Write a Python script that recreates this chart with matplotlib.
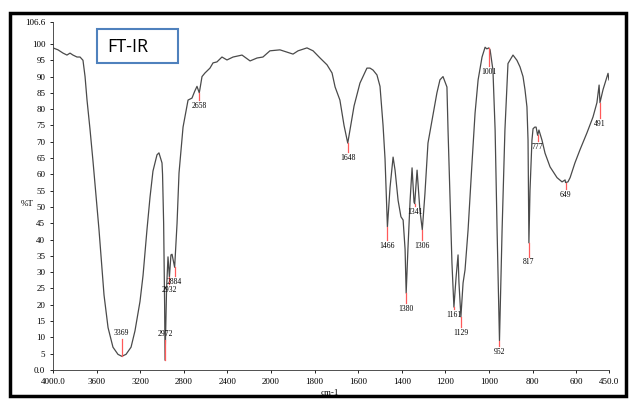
import matplotlib.pyplot as plt
import matplotlib.patches as patches
import numpy as np

# spectrum (wavenumber cm-1, %T)
wavenumber = [4000, 3954, 3908, 3872, 3844, 3817, 3780, 3752, 3725, 3706, 3688, 3661,
              3633, 3596, 3578, 3550, 3532, 3495, 3450, 3404, 3369, 3330, 3284, 3248,
              3202, 3174, 3138, 3110, 3083, 3046, 3028, 3000, 2995, 2985, 2976, 2972,
              2958, 2945, 2932, 2918, 2908, 2884, 2862, 2844, 2817, 2807, 2761, 2725,
              2700, 2679, 2658, 2633, 2606, 2560, 2532, 2496, 2450, 2404, 2348, 2266,
              2192, 2128, 2074, 2010, 1959, 1927, 1899, 1876, 1835, 1807, 1775, 1743,
              1720, 1706, 1684, 1665, 1648, 1638, 1619, 1592, 1560, 1546, 1532, 1514,
              1500, 1486, 1477, 1472, 1466, 1454, 1440, 1431, 1417, 1404, 1394, 1385,
              1380, 1372, 1362, 1353, 1344, 1341, 1330, 1317, 1306, 1294, 1280, 1261,
              1239, 1225, 1211, 1193, 1188, 1179, 1170, 1161, 1151, 1142, 1138, 1129,
              1119, 1110, 1096, 1078, 1064, 1050, 1032, 1018, 1010, 1001, 995, 982,
              972, 963, 952, 940, 927, 913, 904, 890, 872, 858, 844, 835,
              826, 821, 819, 817, 812, 803, 798, 790, 784, 777, 771, 757,
              743, 720, 688, 665, 651, 649, 638, 628, 606, 583, 551, 523,
              505, 495, 491, 477, 463, 454, 450]
transmittance = [98.8, 98.2, 97.2, 96.6, 97.2, 96.6, 96.0, 96.0, 95.0, 90.0, 82.8, 74.0,
                 64.0, 50.0, 43.0, 31.0, 23.0, 13.0, 7.0, 4.8, 4.2, 4.8, 7.0, 12.0,
                 21.0, 29.0, 43.0, 53.0, 61.0, 66.0, 66.6, 63.5, 60.0, 45.0, 20.0, 3.0,
                 25.0, 34.7, 28.5, 35.3, 35.5, 31.5, 45.0, 60.4, 70.5, 74.5, 82.8, 83.4,
                 85.5, 87.0, 85.0, 90.0, 91.1, 92.6, 94.2, 94.5, 96.0, 95.1, 96.0, 96.6,
                 94.8, 95.7, 96.0, 97.9, 98.2, 97.5, 96.9, 97.9, 98.8, 97.9, 95.7, 93.6,
                 91.1, 86.8, 82.8, 75.0, 69.6, 73.6, 81.0, 88.0, 92.6, 92.6, 92.0, 90.5,
                 87.0, 75.0, 64.8, 55.0, 43.9, 56.0, 65.3, 61.3, 52.0, 47.0, 46.0, 37.0,
                 23.6, 37.0, 52.0, 62.0, 51.5, 51.0, 61.3, 49.0, 43.0, 54.0, 69.6, 76.7,
                 85.0, 89.0, 90.0, 86.8, 73.6, 53.0, 32.8, 19.3, 28.5, 35.3, 27.0, 16.3,
                 26.7, 30.7, 43.0, 63.5, 78.8, 89.0, 96.0, 99.0, 98.5, 98.8, 98.2, 92.0,
                 73.6, 43.0, 9.0, 43.0, 73.6, 94.0, 95.0, 96.6, 95.0, 93.0, 90.0, 86.0,
                 80.7, 70.5, 55.0, 39.0, 55.0, 70.5, 74.0, 74.5, 74.5, 72.0, 73.6, 70.5,
                 66.5, 62.3, 59.0, 57.7, 58.3, 57.5, 57.7, 59.0, 63.5, 67.5, 72.7, 77.6,
                 82.0, 87.4, 82.0, 86.0, 89.0, 91.0, 89.0]

# marked peaks and the %T level where their label sits
peak_wn = [3369, 2972, 2932, 2884, 2658, 1648, 1466, 1380, 1341, 1306,
           1161, 1129, 1001, 952, 817, 777, 649, 491]
peak_text = ['3369', '2972', '2932', '2884', '2658', '1648', '1466', '1380', '1341', '1306',
             '1161', '1129', '1001', '952', '817', '777', '649', '491']
label_T = [11.3, 11.0, 24.5, 27.0, 81.0, 65.0, 38.0, 18.7, 48.5, 38.0,
           17.0, 11.3, 91.4, 5.5, 33.0, 68.4, 53.7, 75.5]

xticks = [4000, 3600, 3200, 2800, 2400, 2000, 1800, 1600, 1400, 1200, 1000, 800, 600, 450]
xticklabels = ['4000.0', '3600', '3200', '2800', '2400', '2000', '1800', '1600', '1400',
               '1200', '1000', '800', '600', '450.0']
yticks = [0, 5, 10, 15, 20, 25, 30, 35, 40, 45, 50, 55, 60, 65, 70, 75, 80, 85, 90, 95, 100, 106.6]
yticklabels = ['0.0'] + [str(v) for v in yticks[1:-1]] + ['106.6']


# x axis is compressed by 2 above 2000 cm-1
def fwd(w):
    w = np.asarray(w, dtype=float)
    return np.where(w > 2000, 2000 + (w - 2000) / 2, w)


def inv(u):
    u = np.asarray(u, dtype=float)
    return np.where(u > 2000, 2000 + 2 * (u - 2000), u)


serif = 'Liberation Serif'

fig = plt.figure(figsize=(6.31, 3.99), dpi=100)
ax = fig.add_axes([0.084, 0.0727, 0.881, 0.871])
ax.set_xscale('function', functions=(fwd, inv))
ax.plot(wavenumber, transmittance, color='#4a4a4a', lw=0.9, zorder=3)
ax.set_xlim(4000, 450)
ax.set_ylim(0, 106.6)

wn_inc = np.array(wavenumber[::-1], dtype=float)
t_inc = np.array(transmittance[::-1], dtype=float)
for wn, txt, ly in zip(peak_wn, peak_text, label_T):
    t0 = np.interp(wn, wn_inc, t_inc)
    end = ly + 1.8 if ly < t0 else ly - 1.8
    ax.plot([wn, wn], [t0, end], color='#ff5a5a', lw=0.9, zorder=4)
    ax.text(wn, ly, txt, ha='center', va='center', fontsize=5.5, family=serif,
            color='black', zorder=5)

ax.set_xticks(xticks)
ax.set_xticklabels(xticklabels)
ax.set_yticks(yticks)
ax.set_yticklabels(yticklabels)
ax.minorticks_off()
ax.tick_params(length=2.5, width=0.6, labelsize=6.5, pad=3)
for lab in ax.get_xticklabels() + ax.get_yticklabels():
    lab.set_family(serif)
for s in ['top', 'right']:
    ax.spines[s].set_visible(False)
for s in ['left', 'bottom']:
    ax.spines[s].set_linewidth(0.6)
    ax.spines[s].set_color('#333333')

fig.text(0.043, 0.489, '%T', fontsize=6.5, family=serif, ha='center', va='center')
fig.text(0.523, 0.016, 'cm-1', fontsize=6.5, family=serif, ha='center', va='center')

# FT-IR box
fig.patches.append(patches.Rectangle((97 / 631, 1 - 63 / 399), 81 / 631, 34 / 399,
                                     transform=fig.transFigure, fill=False,
                                     edgecolor='#4f81bd', lw=1.5))
fig.text(107 / 631, 1 - 47 / 399, 'FT-IR', fontsize=13, family='Open Sans',
         ha='left', va='center', color='black')

# outer frame
fig.patches.append(patches.Rectangle((10 / 631, 1 - 396 / 399), 616 / 631, 383 / 399,
                                     transform=fig.transFigure, fill=False,
                                     edgecolor='black', lw=2.5))

plt.savefig('out.png', dpi=100)
